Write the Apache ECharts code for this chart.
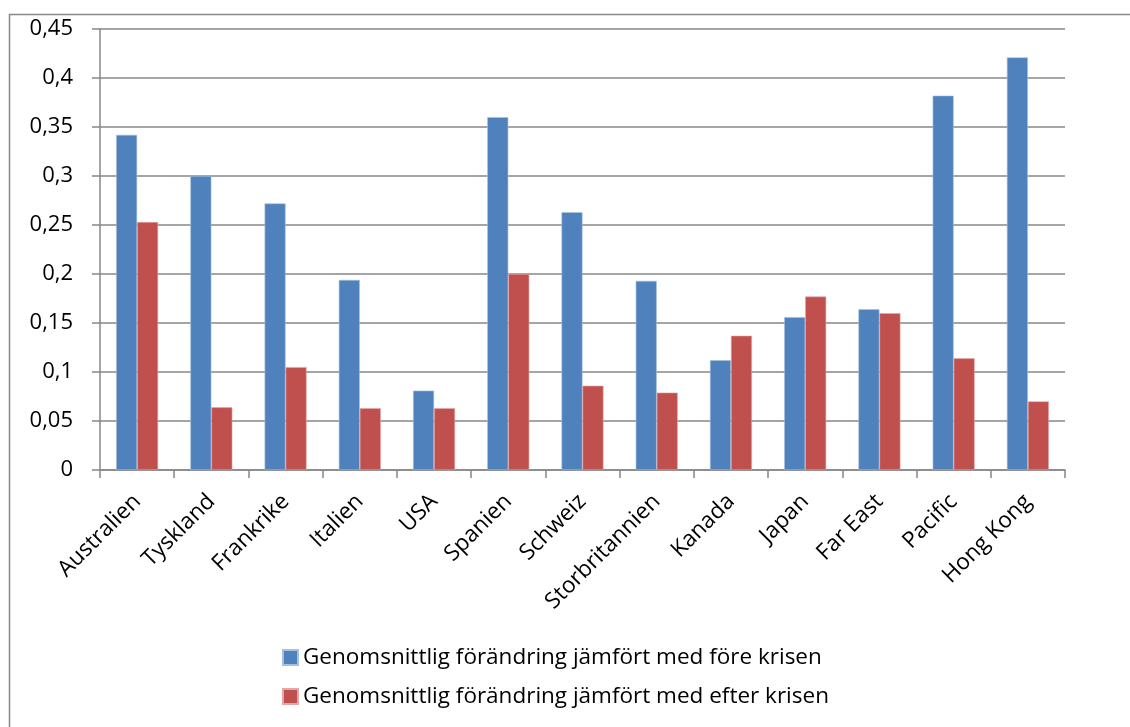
<!DOCTYPE html>
<html>
<head>
<meta charset="utf-8">
<script src="https://cdn.jsdelivr.net/npm/echarts@6/dist/echarts.min.js"></script>
<style>
  html, body { margin: 0; padding: 0; background: #fff; }
  #chart { width: 1130px; height: 727px; }
</style>
</head>
<body>
<div id="chart"></div>
<script>
const countries = [
  "Australien", "Tyskland", "Frankrike", "Italien", "USA", "Spanien", "Schweiz",
  "Storbritannien", "Kanada", "Japan", "Far East", "Pacific", "Hong Kong"
];
const beforeCrisis = [0.342, 0.300, 0.272, 0.194, 0.081, 0.360, 0.263, 0.193, 0.112, 0.156, 0.164, 0.382, 0.421];
const afterCrisis = [0.253, 0.064, 0.105, 0.063, 0.063, 0.200, 0.086, 0.079, 0.137, 0.177, 0.160, 0.114, 0.070];
const seriesNames = [
  "Genomsnittlig förändring jämfört med före krisen",
  "Genomsnittlig förändring jämfört med efter krisen"
];

const FONT = "Open Sans";
const GRID_GRAY = "#878787";

const chart = echarts.init(document.getElementById("chart"));

chart.setOption({
  backgroundColor: "#fff",
  animation: false,
  textStyle: { fontFamily: FONT, color: "#000" },
  graphic: [
    {
      type: "rect",
      left: 7,
      top: 12,
      shape: { width: 1140, height: 740 },
      style: { fill: "none", stroke: GRID_GRAY, lineWidth: 1.5 },
      z: -1,
    },
  ],
  grid: { left: 100, right: 65, top: 29, bottom: 257, containLabel: false },
  legend: {
    orient: "vertical",
    left: 277,
    top: 641,
    itemWidth: 15,
    itemHeight: 15,
    itemGap: 16,
    icon: "rect",
    textStyle: { fontFamily: FONT, fontSize: 22.5, color: "#000" },
    data: seriesNames,
  },
  xAxis: {
    type: "category",
    data: countries,
    axisLine: { show: true, lineStyle: { color: GRID_GRAY, width: 1.5 } },
    axisTick: { show: true, length: 8, lineStyle: { color: GRID_GRAY, width: 1.5 } },
    axisLabel: {
      rotate: 45,
      margin: 28,
      fontFamily: FONT,
      fontSize: 22.5,
      color: "#000",
      interval: 0,
    },
  },
  yAxis: {
    type: "value",
    min: 0,
    max: 0.45,
    interval: 0.05,
    axisLine: { show: true, lineStyle: { color: GRID_GRAY, width: 1.5 } },
    axisTick: { show: true, length: 8, lineStyle: { color: GRID_GRAY, width: 1.5 } },
    splitLine: { show: true, lineStyle: { color: GRID_GRAY, width: 1.5 } },
    axisLabel: {
      margin: 27,
      fontFamily: FONT,
      fontSize: 22,
      color: "#000",
      formatter: (v) => String(Math.round(v * 100) / 100).replace(".", ","),
    },
  },
  series: [
    {
      name: seriesNames[0],
      type: "bar",
      data: beforeCrisis,
      barWidth: 21,
      barGap: "0%",
      itemStyle: { color: "#4F81BD", borderColor: "#A7C0DE", borderWidth: 0.6 },
    },
    {
      name: seriesNames[1],
      type: "bar",
      data: afterCrisis,
      barWidth: 21,
      itemStyle: { color: "#C0504D", borderColor: "#E0A8A6", borderWidth: 0.6 },
    },
  ],
});
</script>
</body>
</html>
